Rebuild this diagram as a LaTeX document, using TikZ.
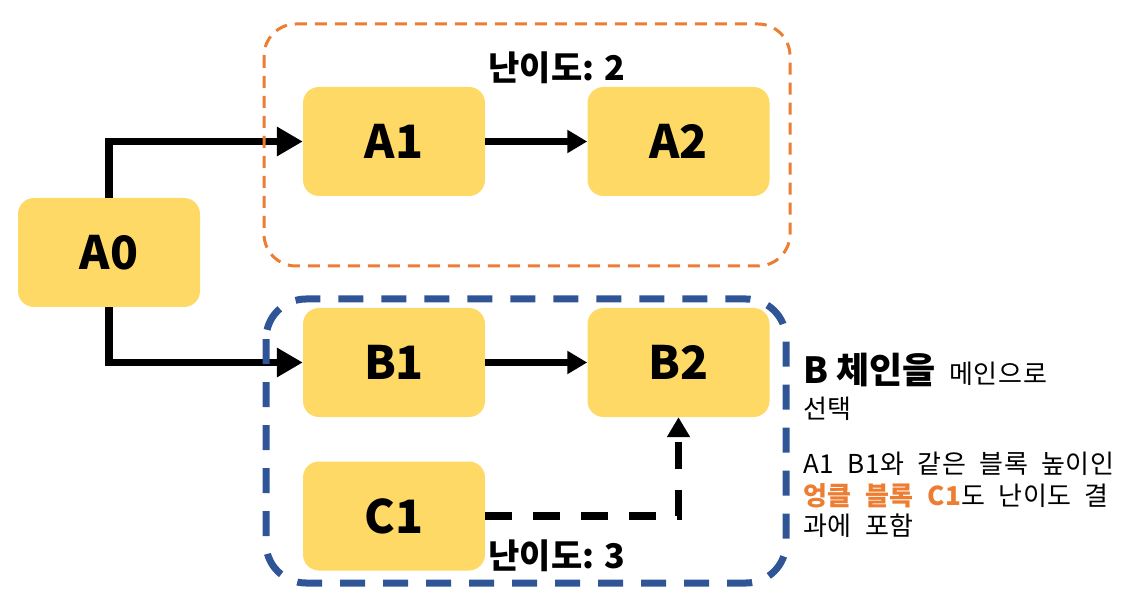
\documentclass[tikz,border=0pt]{standalone}
\usepackage{fontspec}
\setmainfont{Noto Sans CJK KR}
\newfontfamily\notefont{Noto Sans CJK KR}[WordSpace=2, LetterSpace=3]
\usetikzlibrary{arrows.meta}
\definecolor{boxyellow}{HTML}{FFD966}
\definecolor{grporange}{HTML}{ED7D31}
\definecolor{grpblue}{HTML}{2F5597}
\begin{document}
\begin{tikzpicture}[x=1pt,y=-1pt,
  blk/.style={rectangle, rounded corners=16pt, fill=boxyellow, minimum width=182pt, minimum height=109pt, inner sep=0pt, font=\fontsize{46}{50}\selectfont\bfseries},
  conn/.style={line width=7.5pt, -{Triangle[length=20pt,width=22pt]}},
  bigconn/.style={line width=7.5pt, -{Triangle[length=26pt,width=28pt]}},
  lbl/.style={inner sep=0pt, font=\fontsize{34}{38}\selectfont\bfseries},
  note/.style={anchor=base west, inner sep=0pt, font=\notefont\fontsize{26}{30}\selectfont},
]
\useasboundingbox (0,0) rectangle (1128,604);
\node[blk] (A0) at (109,252.5) {A0};
\node[blk] (A1) at (394,141.5) {A1};
\node[blk] (A2) at (678.5,141.5) {A2};
\node[blk] (B1) at (394,362.5) {B1};
\node[blk] (B2) at (678.5,362.5) {B2};
\node[blk] (C1) at (394,516) {C1};

\draw[bigconn] (A0.north) |- (A1.west);
\draw[bigconn] (A0.south) |- (B1.west);
\draw[conn] (A1) -- (A2);
\draw[conn] (B1) -- (B2);
\draw[conn, dash pattern=on 27pt off 21pt] (C1.east) -| (B2.south);

\draw[grporange, line width=3pt, dash pattern=on 12pt off 8pt, rounded corners=32pt] (264,24) rectangle (790,266);
\draw[grpblue, line width=7pt, dash pattern=on 25pt off 18pt, rounded corners=40pt] (266,299) rectangle (786,583);

\node[lbl] (L2) at (557,68) {난이도: 2};
\node[lbl] (L3) at (557,556) {난이도: 3};

\node[note] (T1) at (803,383) {{\rmfamily\fontsize{36}{40}\selectfont\bfseries B 체인을} 메인으로};
\node[note] (T2) at (803,418) {선택};
\node[note] (T3) at (803,473) {A1 B1와 같은 블록 높이인};
\node[note] (T4) at (803,505) {\textcolor{grporange}{\bfseries 엉클 블록 C1}도 난이도 결};
\node[note] (T5) at (803,535) {과에 포함};
\end{tikzpicture}
\end{document}
